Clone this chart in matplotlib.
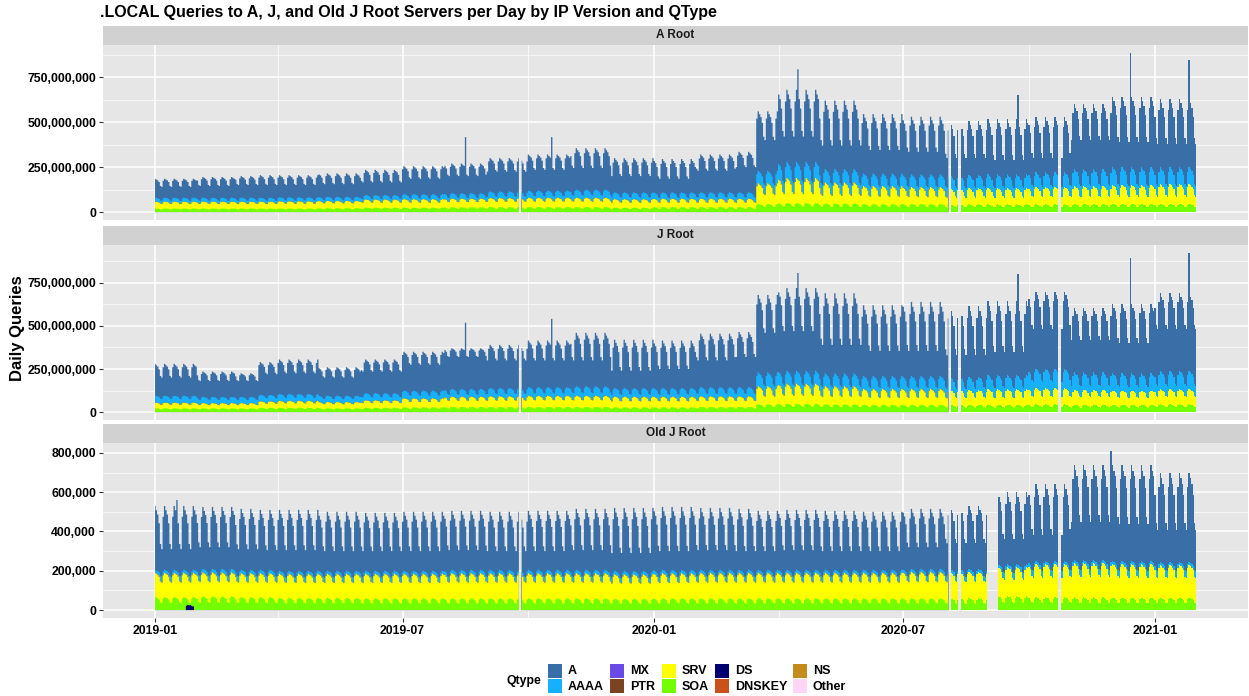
import numpy as np
import pandas as pd
import matplotlib
matplotlib.use('Agg')
import matplotlib.pyplot as plt
import matplotlib.dates as mdates
from matplotlib.patches import Rectangle
from matplotlib.ticker import FuncFormatter, MultipleLocator

plt.rcParams['font.family'] = ['Liberation Sans', 'DejaVu Sans']

qtypes = ['A', 'AAAA', 'MX', 'PTR', 'SRV', 'SOA', 'DS', 'DNSKEY', 'NS', 'Other']
qtype_colors = ['#3a6ea6', '#16b0ff', '#6a4be6', '#7a4322', '#ffff00',
                '#73ff00', '#000070', '#c9521a', '#c48a1c', '#ffd6f6']

first_day = '2019-01-01'
last_day = '2021-01-31'
period_start = ['2019-01-01', '2019-02-01', '2019-03-01', '2019-03-18', '2019-04-01', '2019-05-01',
                '2019-06-01', '2019-07-01', '2019-08-01', '2019-09-01', '2019-10-01', '2019-11-01',
                '2019-12-01', '2020-01-01', '2020-02-01', '2020-03-01', '2020-03-16', '2020-04-01',
                '2020-05-01', '2020-06-01', '2020-07-01', '2020-08-01', '2020-09-01', '2020-10-01',
                '2020-11-01', '2020-12-01', '2021-01-01']
# Mon..Sun: 1 = weekday high, 0 = weekend low
weekday_shape = [0.75, 1.0, 0.9, 0.8, 0.6, 0.12, 0.0]
missing_days = ['2019-09-25', '2020-08-04', '2020-08-11', '2020-10-23']
oldj_missing_days = ['2020-09-01', '2020-09-02', '2020-09-03', '2020-09-04', '2020-09-05',
                     '2020-09-06', '2020-09-07']

# A Root, stacked tops in millions (hi = weekday level, lo = weekend level)
a_total_hi = [185, 195, 200, 205, 205, 215, 235, 255, 270, 300, 320, 355, 300, 295, 320, 335,
              560, 680, 620, 545, 530, 505, 520, 530, 600, 640, 630]
a_total_lo = [140, 145, 150, 150, 150, 155, 165, 185, 200, 225, 235, 245, 200, 185, 230, 250,
              400, 420, 370, 345, 335, 300, 290, 300, 400, 390, 380]
a_aaaa_hi = [80, 80, 80, 80, 82, 85, 95, 100, 105, 115, 120, 125, 110, 110, 110, 110,
             230, 280, 240, 215, 210, 205, 210, 220, 240, 250, 250]
a_aaaa_lo = [62, 62, 62, 62, 64, 65, 72, 75, 78, 85, 88, 92, 80, 78, 80, 80,
             150, 160, 150, 140, 138, 135, 135, 140, 145, 145, 145]
a_srv_hi = [58, 58, 58, 58, 60, 62, 70, 72, 75, 78, 80, 80, 72, 75, 75, 75,
            160, 190, 165, 145, 140, 135, 135, 140, 145, 150, 155]
a_srv_lo = [45, 45, 45, 45, 46, 48, 52, 52, 55, 57, 58, 58, 52, 52, 52, 52,
            95, 100, 90, 85, 83, 80, 80, 82, 84, 85, 85]
a_soa_hi = [20, 20, 20, 20, 20, 22, 25, 25, 27, 28, 28, 28, 25, 28, 28, 28,
            45, 50, 48, 45, 45, 42, 42, 42, 44, 45, 45]
a_soa_lo = [14, 14, 14, 14, 14, 15, 17, 17, 18, 18, 18, 18, 16, 17, 17, 17,
            28, 30, 28, 27, 27, 26, 26, 26, 27, 28, 28]
a_spike_dates = ['2019-08-16', '2019-10-18', '2020-04-15', '2020-09-23', '2020-12-14', '2021-01-26']
a_spike_totals = [417, 417, 794, 650, 885, 844]

# J Root, millions
j_total_hi = [280, 235, 225, 290, 305, 260, 305, 350, 370, 390, 415, 460, 420, 415, 455, 465,
              680, 720, 690, 620, 640, 615, 645, 700, 605, 630, 690]
j_total_lo = [200, 180, 180, 220, 225, 200, 235, 275, 320, 300, 300, 300, 240, 250, 300, 320,
              460, 470, 390, 355, 355, 330, 350, 480, 420, 400, 480]
j_aaaa_hi = [95, 88, 88, 100, 105, 95, 110, 125, 135, 140, 145, 150, 140, 140, 145, 145,
             230, 240, 225, 210, 210, 205, 215, 250, 230, 225, 240]
j_aaaa_lo = [75, 70, 70, 80, 82, 75, 85, 95, 100, 105, 108, 110, 100, 100, 105, 105,
             150, 155, 145, 140, 140, 135, 140, 175, 150, 145, 150]
j_srv_hi = [55, 52, 52, 62, 65, 58, 68, 80, 90, 92, 95, 95, 90, 90, 92, 92,
            150, 165, 150, 135, 135, 130, 135, 140, 130, 125, 135]
j_srv_lo = [42, 40, 40, 48, 50, 45, 52, 58, 65, 66, 68, 68, 62, 62, 64, 64,
            90, 95, 88, 82, 82, 80, 82, 90, 85, 82, 85]
j_soa_hi = [22, 22, 22, 25, 25, 22, 25, 28, 30, 30, 30, 30, 28, 28, 30, 30,
            45, 48, 45, 42, 42, 42, 42, 44, 42, 42, 44]
j_soa_lo = [15, 15, 15, 17, 17, 15, 17, 18, 20, 20, 20, 20, 18, 18, 20, 20,
            28, 30, 28, 27, 27, 26, 26, 27, 26, 26, 27]
j_spike_dates = ['2019-08-16', '2019-10-18', '2020-04-15', '2020-09-23', '2020-12-14', '2021-01-26']
j_spike_totals = [519, 541, 808, 802, 895, 924]

# Old J Root, thousands
oldj_total_hi = [530, 525, 515, 510, 510, 500, 495, 500, 505, 500, 505, 515, 520, 525, 520, 515,
                 505, 510, 505, 500, 515, 530, 600, 640, 740, 740, 700]
oldj_total_lo = [310, 320, 310, 305, 305, 300, 300, 300, 305, 300, 300, 305, 290, 300, 305, 300,
                 300, 305, 300, 300, 320, 340, 360, 380, 450, 440, 410]
oldj_aaaa_hi = [205, 210, 205, 205, 200, 200, 200, 200, 205, 205, 205, 205, 200, 205, 205, 205,
                205, 205, 205, 205, 210, 210, 235, 250, 255, 250, 245]
oldj_aaaa_lo = [170, 172, 170, 170, 165, 165, 165, 165, 168, 168, 168, 168, 160, 165, 168, 168,
                168, 168, 168, 168, 170, 170, 190, 200, 205, 200, 198]
oldj_srv_hi = [190, 192, 188, 188, 185, 185, 185, 185, 188, 188, 188, 188, 182, 188, 190, 190,
               190, 190, 190, 190, 195, 195, 220, 235, 240, 235, 230]
oldj_srv_lo = [140, 142, 140, 140, 138, 138, 138, 138, 140, 140, 140, 140, 135, 138, 140, 140,
               140, 140, 140, 140, 142, 142, 155, 165, 168, 165, 162]
oldj_soa_hi = [66, 70, 66, 66, 62, 62, 60, 60, 60, 60, 60, 60, 58, 60, 60, 60,
               60, 60, 60, 60, 60, 60, 72, 66, 64, 62, 62]
oldj_soa_lo = [35, 36, 35, 35, 34, 34, 33, 33, 33, 33, 33, 33, 32, 33, 33, 33,
               33, 33, 33, 33, 33, 33, 38, 35, 34, 34, 34]
oldj_spike_dates = ['2019-01-17', '2020-11-30']
oldj_spike_totals = [560, 810]
oldj_ds_dates = ['2019-01-24', '2019-01-25', '2019-01-26', '2019-01-27', '2019-01-28', '2019-01-29']
oldj_ds_values = [22, 26, 24, 25, 20, 18]

panel_titles = ['A Root', 'J Root', 'Old J Root']

days = pd.date_range(first_day, last_day, freq='D')
periods = pd.to_datetime(period_start)
pidx = np.searchsorted(periods.values, days.values, side='right') - 1
wshape = np.array(weekday_shape)[days.weekday]


def daily(hi, lo):
    hi = np.array(hi, dtype=float)[pidx]
    lo = np.array(lo, dtype=float)[pidx]
    return lo + wshape * (hi - lo)


def build_layers(tot_hi, tot_lo, aaaa_hi, aaaa_lo, srv_hi, srv_lo, soa_hi, soa_lo,
                 spike_dates, spike_totals, ds_dates, ds_values, scale):
    total = daily(tot_hi, tot_lo)
    aaaa_top = daily(aaaa_hi, aaaa_lo)
    srv_top = daily(srv_hi, srv_lo)
    soa_top = daily(soa_hi, soa_lo)
    ds = np.zeros(len(days))
    for d, v in zip(ds_dates, ds_values):
        ds[days.get_loc(pd.Timestamp(d))] = v
    soa_top = np.maximum(soa_top, ds)
    for d, v in zip(spike_dates, spike_totals):
        total[days.get_loc(pd.Timestamp(d))] = v
    zero = np.zeros(len(days))
    vals = {'A': total - aaaa_top, 'AAAA': aaaa_top - srv_top, 'MX': zero, 'PTR': zero,
            'SRV': srv_top - soa_top, 'SOA': soa_top - ds, 'DS': ds, 'DNSKEY': zero,
            'NS': zero, 'Other': zero}
    return {k: v * scale for k, v in vals.items()}


panels = [
    build_layers(a_total_hi, a_total_lo, a_aaaa_hi, a_aaaa_lo, a_srv_hi, a_srv_lo,
                 a_soa_hi, a_soa_lo, a_spike_dates, a_spike_totals, [], [], 1e6),
    build_layers(j_total_hi, j_total_lo, j_aaaa_hi, j_aaaa_lo, j_srv_hi, j_srv_lo,
                 j_soa_hi, j_soa_lo, j_spike_dates, j_spike_totals, [], [], 1e6),
    build_layers(oldj_total_hi, oldj_total_lo, oldj_aaaa_hi, oldj_aaaa_lo, oldj_srv_hi, oldj_srv_lo,
                 oldj_soa_hi, oldj_soa_lo, oldj_spike_dates, oldj_spike_totals,
                 oldj_ds_dates, oldj_ds_values, 1e3),
]
gap_sets = [missing_days, missing_days, missing_days + oldj_missing_days]
major_steps = [250e6, 250e6, 200e3]

W, H = 1249, 696
fig = plt.figure(figsize=(W / 100, H / 100), dpi=100)
fig.patch.set_facecolor('white')

# overlay in pixel coordinates for strips / titles / legend
lay = fig.add_axes([0, 0, 1, 1])
lay.set_xlim(0, W)
lay.set_ylim(H, 0)
lay.axis('off')

panel_px = [(45, 220), (245, 420), (443, 618)]
x0, x1 = 103, 1248
xnum = mdates.date2num(days)
span = xnum[-1] - xnum[0]

for i, (layers, (top, bot)) in enumerate(zip(panels, panel_px)):
    ax = fig.add_axes([x0 / W, (H - bot) / H, (x1 - x0) / W, (bot - top) / H])
    ax.set_facecolor('#e6e6e6')
    ok = ~days.isin(pd.to_datetime(gap_sets[i]))
    # stack bottom-up: Other ... A; paint cumulative tops from the top layer down
    order = qtypes[::-1]
    cum = np.zeros(len(days))
    tops = []
    for q in order:
        cum = cum + layers[q]
        tops.append((q, cum.copy()))
    for q, t in tops[::-1]:
        ax.fill_between(xnum, 0, t, where=ok, step='mid', color=qtype_colors[qtypes.index(q)],
                        lw=0, zorder=2)
    ymax = tops[-1][1].max()
    ax.set_ylim(-0.05 * ymax, 1.05 * ymax)
    ax.set_xlim(xnum[0] - 0.05 * span, xnum[-1] + 0.05 * span)
    ax.yaxis.set_major_locator(MultipleLocator(major_steps[i]))
    ax.yaxis.set_minor_locator(MultipleLocator(major_steps[i] / 2))
    ax.yaxis.set_major_formatter(FuncFormatter(lambda v, p: f'{v:,.0f}'))
    ax.xaxis.set_major_locator(mdates.MonthLocator(bymonth=[1, 7]))
    ax.xaxis.set_minor_locator(mdates.MonthLocator(bymonth=[4, 10]))
    ax.xaxis.set_major_formatter(mdates.DateFormatter('%Y-%m'))
    ax.grid(which='major', color='white', lw=1.1, zorder=1)
    ax.grid(which='minor', color='white', lw=0.5, zorder=1)
    ax.set_axisbelow(True)
    for s in ax.spines.values():
        s.set_visible(False)
    ax.tick_params(axis='y', which='major', length=3, width=0.8, color='#333333',
                   labelsize=8.8, pad=2)
    ax.tick_params(which='minor', length=0)
    if i < 2:
        ax.tick_params(axis='x', which='major', length=0, labelbottom=False)
    else:
        ax.tick_params(axis='x', which='major', length=3, width=0.8, color='#333333',
                       labelsize=8.8, pad=2)
    for lab in ax.get_yticklabels() + ax.get_xticklabels():
        lab.set_fontweight('bold')
        lab.set_color('black')
    # strip
    lay.add_patch(Rectangle((x0, top - 19), x1 - x0, 19, facecolor='#d1d1d1', edgecolor='none'))
    lay.text((x0 + x1) / 2, top - 9.5, panel_titles[i], ha='center', va='center',
             fontsize=8.5, fontweight='bold', color='#1a1a1a')

lay.text(100, 13, '.LOCAL Queries to A, J, and Old J Root Servers per Day by IP Version and QType',
         ha='left', va='center', fontsize=11.5, fontweight='bold', color='black')
lay.text(18, 328, 'Daily Queries', rotation=90, ha='center', va='center',
         fontsize=12, fontweight='bold', color='black')

# legend
lay.text(507, 681, 'Qtype', ha='left', va='center', fontsize=8.8, fontweight='bold')
col_x = [548, 610, 662, 715, 793]
for k, (q, c) in enumerate(zip(qtypes, qtype_colors)):
    cx = col_x[k // 2]
    cy = 664 + 15 * (k % 2)
    lay.add_patch(Rectangle((cx, cy), 14, 14, facecolor=c, edgecolor='none'))
    lay.text(cx + 20, cy + 7.5, q, ha='left', va='center', fontsize=9, fontweight='bold')

fig.savefig('out.png', dpi=100)
